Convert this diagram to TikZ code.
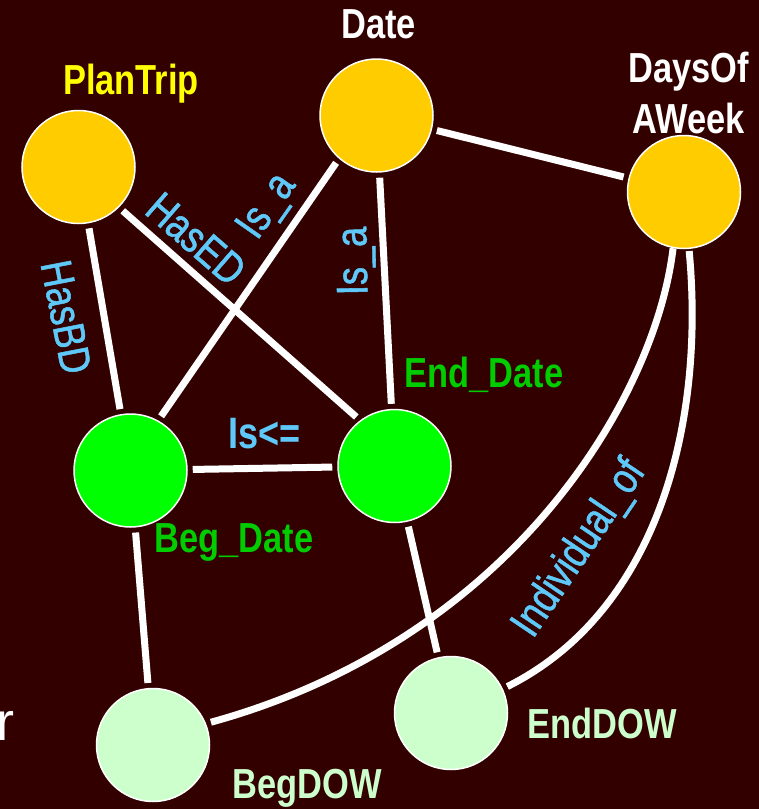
\documentclass[tikz,border=0pt]{standalone}
\usepackage{fontspec}
\setmainfont{Liberation Sans}
\newfontfamily\nar{Liberation Sans}[FakeStretch=0.82]
\newfontfamily\narm{Liberation Sans}[FakeStretch=0.82, FakeBold=1.2]
\definecolor{bgc}{HTML}{330000}
\definecolor{cOrange}{HTML}{FFCC00}
\definecolor{cGreen}{HTML}{00FF00}
\definecolor{cLight}{HTML}{CCFFCC}
\definecolor{tGreen}{HTML}{00CC00}
\definecolor{tYellow}{HTML}{FFFF00}
\definecolor{tBlue}{HTML}{5EC8F8}
\begin{document}
\begin{tikzpicture}[x=1pt,y=-1pt,
  conc/.style={circle, draw=white, line width=1.5pt, minimum size=113pt, inner sep=0pt},
  orangec/.style={conc, fill=cOrange},
  greenc/.style={conc, fill=cGreen},
  lightc/.style={conc, fill=cLight},
  link/.style={draw=white, line width=7pt, shorten <=5pt, shorten >=5pt},
  elabel/.style={text=tBlue, font=\narm\fontsize{44}{50}\selectfont, inner sep=0pt},
  nlabel/.style={font=\nar\bfseries\fontsize{42}{51}\selectfont, inner sep=0pt, anchor=base, align=center}]
\useasboundingbox (0,0) rectangle (759,809);
\fill[bgc] (0,0) rectangle (759,809);
% concept nodes
\node[orangec] (plan) at (78.5,167) {};
\node[orangec] (date) at (376.5,115.5) {};
\node[orangec] (dow) at (684,192) {};
\node[greenc] (beg) at (130.5,470.5) {};
\node[greenc] (end) at (394.5,466) {};
\node[lightc] (begdow) at (153,745) {};
\node[lightc] (enddow) at (451,713) {};
% node labels
\node[nlabel, text=tYellow] (lplan) at (131,94) {PlanTrip};
\node[nlabel, text=white] (ldate) at (378.5,38) {Date};
\node[nlabel, text=white] (ldow) at (688.5,133) {DaysOf\\AWeek};
\node[nlabel, text=tGreen] (lend) at (484,387) {End\_Date};
\node[nlabel, text=tGreen] (lbeg) at (234,552) {Beg\_Date};
\node[nlabel, text=cLight] (lbegdow) at (307,798) {BegDOW};
\node[nlabel, text=cLight] (lenddow) at (602.5,738) {EndDOW};
\node[text=white, font=\fontsize{54}{60}\selectfont, inner sep=0pt, anchor=base west] (lr) at (-4,740) {r};
% connectors
\draw[link] (plan) -- (beg);
\draw[link] (plan.-45) -- (end.127);
\draw[link] (date.-131) -- (beg.61);
\draw[link] (date) -- (end);
\draw[link] (date) -- (dow);
\draw[link] (beg) -- (end);
\draw[link] (beg) -- (begdow);
\draw[link] (end) -- (enddow);
\draw[link, shorten <=0pt] (dow.-101) .. controls (655,400) and (510,640) .. (begdow.22);
\draw[link, shorten <=2pt] (dow.-85) .. controls (705,420) and (660,610) .. (enddow.25);
% connector labels
\node[elabel, rotate=-79] (lhasbd) at (66,317) {HasBD};
\node[elabel, rotate=-41] (lhased) at (196,239) {HasED};
\node[elabel, rotate=55] (lisa1) at (268,207) {Is\_a};
\node[elabel, rotate=91] (lisa2) at (356,261) {Is\_a};
\node[elabel, rotate=56] (lind) at (580,549) {Individual\_of};
\node[elabel, font=\nar\bfseries\fontsize{44}{50}\selectfont, anchor=base] (lle) at (264.5,448) {Is<=};
\end{tikzpicture}
\end{document}
